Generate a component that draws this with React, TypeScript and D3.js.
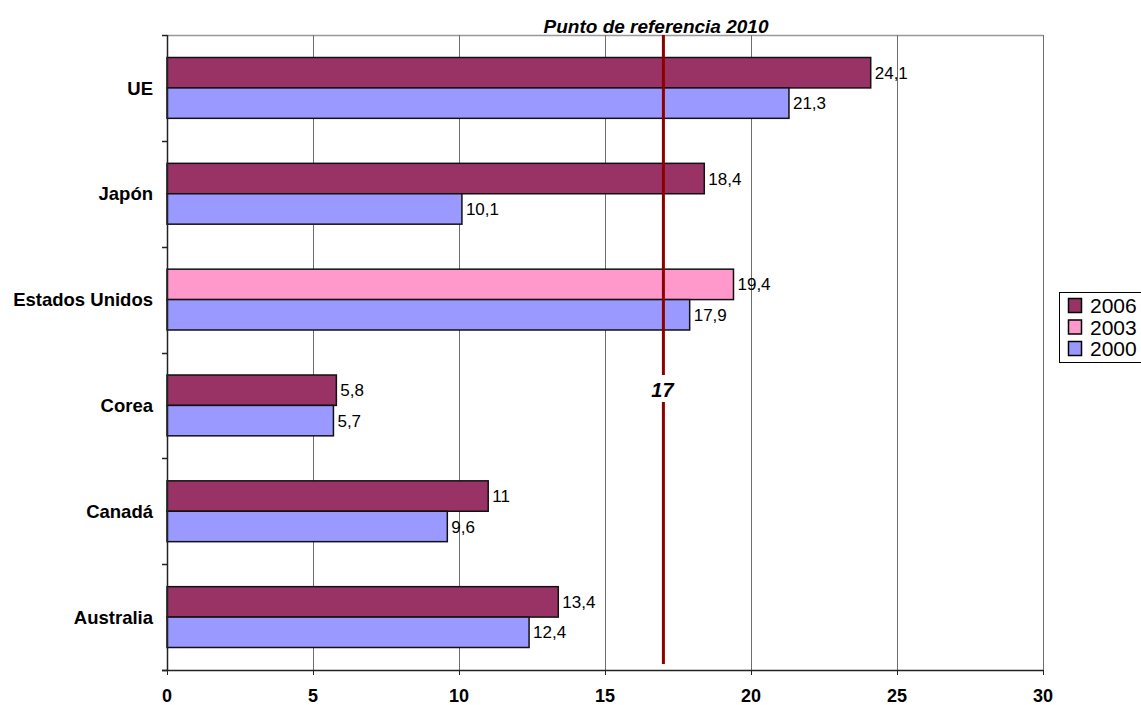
import { useEffect, useRef } from 'react';
import * as d3 from 'd3';

const categories = ['UE', 'Japón', 'Estados Unidos', 'Corea', 'Canadá', 'Australia'];
const values2006 = [24.1, 18.4, null, 5.8, 11, 13.4];
const values2003 = [null, null, 19.4, null, null, null];
const values2000 = [21.3, 10.1, 17.9, 5.7, 9.6, 12.4];
const xTicks = [0, 5, 10, 15, 20, 25, 30];
const referenceValue = 17;
const referenceTitle = 'Punto de referencia 2010';
const legendItems = [
  { label: '2006', color: '#993366' },
  { label: '2003', color: '#FF99CC' },
  { label: '2000', color: '#9999FF' },
];

const App = () => {
  const ref = useRef<SVGSVGElement>(null);

  useEffect(() => {
    document.body.style.margin = '0';
    const svg = d3.select(ref.current);
    svg.selectAll('*').remove();

    const left = 167;
    const right = 1043;
    const top = 35;
    const bottom = 670;
    const font = 'Arial, "Liberation Sans", sans-serif';

    const x = d3.scaleLinear().domain([0, 30]).range([left, right]);
    const y = d3.scaleBand().domain(categories).range([top, bottom]).paddingInner(0).paddingOuter(0);
    // two bars of ~30px centred in each band
    const slot = d3.scaleBand().domain(['recent', 'old']).range([0, y.bandwidth()]).paddingInner(0).paddingOuter(0.74);

    const g = svg.append('g');

    // plot top border
    g.append('line')
      .attr('x1', left).attr('x2', right).attr('y1', top + 0.5).attr('y2', top + 0.5)
      .attr('stroke', '#999').attr('stroke-width', 1.5);

    // vertical grid
    g.selectAll('.grid')
      .data(xTicks.filter(d => d > 0))
      .enter().append('line')
      .attr('x1', d => Math.round(x(d)) + 0.5)
      .attr('x2', d => Math.round(x(d)) + 0.5)
      .attr('y1', top)
      .attr('y2', bottom + 5)
      .attr('stroke', '#6e6e6e')
      .attr('stroke-width', 1);

    const rows = categories.map((c, i) => ({
      c,
      recent: values2006[i] != null ? values2006[i] : values2003[i],
      recentColor: values2006[i] != null ? '#993366' : '#FF99CC',
      old: values2000[i],
    }));

    const fmt = (v: number) => String(v).replace('.', ',');

    // reference line (drawn under labels, over bars later)
    rows.forEach(r => {
      const yb = y(r.c)!;
      const items = [
        { key: 'recent', v: r.recent as number, color: r.recentColor },
        { key: 'old', v: r.old, color: '#9999FF' },
      ];
      items.forEach(it => {
        const yy = yb + slot(it.key)!;
        g.append('rect')
          .attr('x', x(0))
          .attr('y', yy)
          .attr('width', x(it.v) - x(0))
          .attr('height', slot.bandwidth())
          .attr('fill', it.color)
          .attr('stroke', '#111')
          .attr('stroke-width', 1.5);
      });
    });

    const rx = x(referenceValue);
    g.append('line')
      .attr('x1', rx).attr('x2', rx).attr('y1', top).attr('y2', 375)
      .attr('stroke', '#8B0000').attr('stroke-width', 3);
    g.append('line')
      .attr('x1', rx).attr('x2', rx).attr('y1', 402).attr('y2', bottom - 6)
      .attr('stroke', '#8B0000').attr('stroke-width', 3);

    rows.forEach(r => {
      const yb = y(r.c)!;
      const items = [
        { key: 'recent', v: r.recent as number },
        { key: 'old', v: r.old },
      ];
      items.forEach(it => {
        const yy = yb + slot(it.key)!;
        g.append('text')
          .attr('x', x(it.v) + 4)
          .attr('y', yy + slot.bandwidth() / 2)
          .attr('dy', '0.36em')
          .attr('font-family', font)
          .attr('font-size', 17)
          .attr('fill', '#000')
          .text(fmt(it.v));
      });
    });

    // left axis
    g.append('line')
      .attr('x1', left + 0.5).attr('x2', left + 0.5).attr('y1', top).attr('y2', bottom)
      .attr('stroke', '#222').attr('stroke-width', 1.5);
    const bounds = categories.map(c => y(c)!).concat([bottom]);
    g.selectAll('.ytick')
      .data(bounds)
      .enter().append('line')
      .attr('x1', left - 5).attr('x2', left)
      .attr('y1', d => Math.round(d) + 0.5).attr('y2', d => Math.round(d) + 0.5)
      .attr('stroke', '#222').attr('stroke-width', 1.5);
    g.selectAll('.ylabel')
      .data(categories)
      .enter().append('text')
      .attr('x', 153)
      .attr('y', d => y(d)! + y.bandwidth() / 2)
      .attr('dy', '0.36em')
      .attr('text-anchor', 'end')
      .attr('font-family', font)
      .attr('font-size', 18.5)
      .attr('font-weight', 'bold')
      .text(d => d);

    // bottom axis
    g.append('line')
      .attr('x1', left - 5).attr('x2', right).attr('y1', bottom + 0.5).attr('y2', bottom + 0.5)
      .attr('stroke', '#222').attr('stroke-width', 1.5);
    g.selectAll('.xtick')
      .data(xTicks)
      .enter().append('line')
      .attr('x1', d => Math.round(x(d)) + 0.5).attr('x2', d => Math.round(x(d)) + 0.5)
      .attr('y1', bottom).attr('y2', bottom + 5)
      .attr('stroke', '#222');
    g.selectAll('.xlabel')
      .data(xTicks)
      .enter().append('text')
      .attr('x', d => x(d))
      .attr('y', 702)
      .attr('text-anchor', 'middle')
      .attr('font-family', font)
      .attr('font-size', 18)
      .attr('font-weight', 'bold')
      .text(d => d);

    // reference labels
    g.append('text')
      .attr('x', rx - 1)
      .attr('y', 397)
      .attr('text-anchor', 'middle')
      .attr('font-family', font)
      .attr('font-size', 20)
      .attr('font-weight', 'bold')
      .attr('font-style', 'italic')
      .text(referenceValue);
    g.append('text')
      .attr('x', 656)
      .attr('y', 33)
      .attr('text-anchor', 'middle')
      .attr('font-family', font)
      .attr('font-size', 19)
      .attr('font-weight', 'bold')
      .attr('font-style', 'italic')
      .text(referenceTitle);

    // legend
    const lg = g.append('g').attr('transform', 'translate(1059,292)');
    lg.append('rect')
      .attr('x', 0.5).attr('y', 0.5).attr('width', 120).attr('height', 70)
      .attr('fill', '#fff').attr('stroke', '#000');
    legendItems.forEach((it, i) => {
      lg.append('rect')
        .attr('x', 9.5).attr('y', 6.5 + i * 21.5)
        .attr('width', 13).attr('height', 14)
        .attr('fill', it.color).attr('stroke', '#000').attr('stroke-width', 1.5);
      lg.append('text')
        .attr('x', 31).attr('y', 13.5 + i * 21.5)
        .attr('dy', '0.36em')
        .attr('font-family', font)
        .attr('font-size', 21)
        .text(it.label);
    });
  }, []);

  return <svg ref={ref} width={1141} height={705} style={{ display: 'block', background: '#fff' }} />;
};

export default App;
